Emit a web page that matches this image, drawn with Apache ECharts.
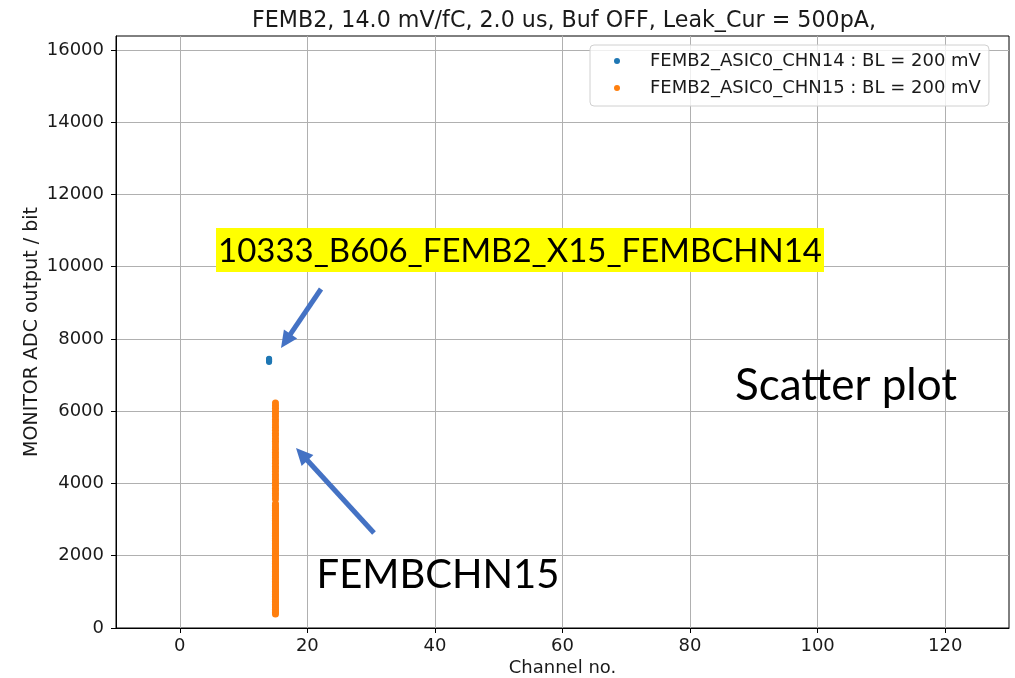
<!DOCTYPE html>
<html>
<head>
<meta charset="utf-8">
<script src="https://cdn.jsdelivr.net/npm/echarts@6/dist/echarts.min.js"></script>
<style>
  html, body { margin: 0; padding: 0; background: #fff; }
  #chart { width: 1015px; height: 678px; }
</style>
</head>
<body>
<div id="chart"></div>
<script>
// Channel numbers and monitor ADC readings for the two scanned channels
const chn14Channel = 14;
const chn14Values = [7360, 7385, 7405, 7420, 7440, 7455];

const chn15Channel = 15;
const chn15Values = [
  390, 430, 470, 520, 560, 610, 650, 700, 740, 790, 830, 880, 930, 970,
  1020, 1060, 1110, 1150, 1200, 1250, 1290, 1340, 1380, 1430, 1470, 1520,
  1570, 1610, 1660, 1700, 1750, 1790, 1840, 1890, 1930, 1980, 2020, 2070,
  2110, 2160, 2210, 2250, 2300, 2340, 2390, 2430, 2480, 2530, 2570, 2620,
  2660, 2710, 2750, 2800, 2850, 2890, 2940, 2980, 3030, 3080, 3120, 3170,
  3210, 3260, 3300, 3350, 3400, 3440,
  3570, 3650, 3720, 3800, 3870, 3950, 4030, 4100, 4180, 4250, 4330, 4410,
  4480, 4560, 4630, 4710, 4790, 4860, 4940, 5010, 5090, 5170, 5240, 5320,
  5390, 5470, 5550, 5620, 5700, 5770, 5850, 5930, 6000, 6080, 6150, 6230
];

const seriesNames = [
  'FEMB2_ASIC0_CHN14 : BL = 200 mV',
  'FEMB2_ASIC0_CHN15 : BL = 200 mV'
];
const chartTitle = 'FEMB2, 14.0 mV/fC, 2.0 us, Buf OFF, Leak_Cur = 500pA,';
const xTitle = 'Channel no.';
const yTitle = 'MONITOR ADC output / bit';

// Axis extents and the tick positions shown on each axis
const xMin = -10, xMax = 130;
const xTicks = [0, 20, 40, 60, 80, 100, 120];
const yMin = 0, yMax = 16384;
const yTicks = [0, 2000, 4000, 6000, 8000, 10000, 12000, 14000, 16000];

const tagText = '10333_B606_FEMB2_X15_FEMBCHN14';
const chn15Text = 'FEMBCHN15';
const plotText = 'Scatter plot';

const tickFont = 'DejaVu Sans';
const noteFont = 'Lato';
const arrowColor = '#4472C4';
const textColor = '#1a1a1a';

// Arrow built from a shaft line and a triangular head
function arrow(x1, y1, x2, y2) {
  const dx = x2 - x1, dy = y2 - y1;
  const len = Math.hypot(dx, dy);
  const ux = dx / len, uy = dy / len;
  const headLen = 17, headHalf = 8;
  const bx = x2 - ux * headLen, by = y2 - uy * headLen;
  return [
    {
      type: 'line', z: 100,
      shape: { x1: x1, y1: y1, x2: bx + ux * 2, y2: by + uy * 2 },
      style: { stroke: arrowColor, lineWidth: 5 }
    },
    {
      type: 'polygon', z: 100,
      shape: { points: [[x2, y2], [bx - uy * headHalf, by + ux * headHalf], [bx + uy * headHalf, by - ux * headHalf]] },
      style: { fill: arrowColor }
    }
  ];
}

const chart = echarts.init(document.getElementById('chart'), null, { renderer: 'canvas' });

const axisLabelStyle = {
  color: textColor, fontFamily: tickFont, fontSize: 18,
  formatter: function (v) { return String(v); }
};

chart.setOption({
  backgroundColor: '#ffffff',
  animation: false,
  title: {
    text: chartTitle,
    left: 559,
    top: 5,
    textAlign: 'center',
    textStyle: { fontFamily: tickFont, fontSize: 22.2, fontWeight: 'normal', color: textColor }
  },
  grid: {
    left: 116, right: 6, top: 36, bottom: 50,
    containLabel: false, outerBoundsMode: 'none',
    show: true, borderColor: '#000', borderWidth: 1, backgroundColor: 'transparent'
  },
  legend: {
    orient: 'vertical',
    left: 590,
    top: 45,
    padding: [6, 8, 8, 24],
    itemGap: 7,
    itemWidth: 6,
    itemHeight: 6,
    icon: 'circle',
    backgroundColor: 'rgba(255,255,255,0.8)',
    borderColor: '#d0d0d0',
    borderWidth: 1,
    borderRadius: 4,
    textStyle: { fontFamily: tickFont, fontSize: 18, color: textColor, lineHeight: 20, padding: [0, 0, 0, 25] },
    data: seriesNames
  },
  xAxis: {
    type: 'value',
    min: xMin, max: xMax,
    name: xTitle, nameLocation: 'middle', nameGap: 31, nameMoveOverlap: false,
    nameTextStyle: { fontFamily: tickFont, fontSize: 18, color: textColor },
    axisLine: { show: true, onZero: false, lineStyle: { color: '#000', width: 1 } },
    axisTick: { show: true, length: 5, customValues: xTicks, lineStyle: { color: '#000' } },
    axisLabel: Object.assign({ margin: 9, customValues: xTicks }, axisLabelStyle),
    splitLine: { show: true, lineStyle: { color: '#b0b0b0', width: 1 } }
  },
  yAxis: {
    type: 'value',
    min: yMin, max: yMax,
    name: yTitle, nameLocation: 'middle', nameGap: 74, nameMoveOverlap: false,
    nameTextStyle: { fontFamily: tickFont, fontSize: 19, color: textColor },
    axisLine: { show: true, onZero: false, lineStyle: { color: '#000', width: 1 } },
    axisTick: { show: true, length: 5, customValues: yTicks, lineStyle: { color: '#000' } },
    axisLabel: Object.assign({ margin: 12, customValues: yTicks }, axisLabelStyle),
    splitLine: { show: true, lineStyle: { color: '#b0b0b0', width: 1 } }
  },
  series: [
    {
      name: seriesNames[0],
      type: 'scatter',
      symbol: 'circle',
      symbolSize: 6,
      itemStyle: { color: '#1f77b4', opacity: 1 },
      data: chn14Values.map(function (v) { return [chn14Channel, v]; })
    },
    {
      name: seriesNames[1],
      type: 'scatter',
      symbol: 'circle',
      symbolSize: 7,
      itemStyle: { color: '#ff7f0e', opacity: 1 },
      data: chn15Values.map(function (v) { return [chn15Channel, v]; })
    }
  ],
  graphic: [
    {
      type: 'rect', z: 90,
      shape: { x: 216, y: 228, width: 608, height: 44 },
      style: { fill: '#ffff00' }
    },
    {
      type: 'text', z: 95,
      x: 520, y: 251,
      style: {
        text: tagText, fill: '#000', font: '33px ' + noteFont,
        textAlign: 'center', textVerticalAlign: 'middle'
      }
    },
    {
      type: 'text', z: 95,
      x: 846, y: 386,
      style: {
        text: plotText, fill: '#000', font: '44px ' + noteFont,
        textAlign: 'center', textVerticalAlign: 'middle'
      }
    },
    {
      type: 'text', z: 95,
      x: 438, y: 575,
      style: {
        text: chn15Text, fill: '#000', font: '40px ' + noteFont,
        textAlign: 'center', textVerticalAlign: 'middle'
      }
    }
  ].concat(arrow(321, 289, 281, 348)).concat(arrow(374, 533, 296, 448))
});
</script>
</body>
</html>
